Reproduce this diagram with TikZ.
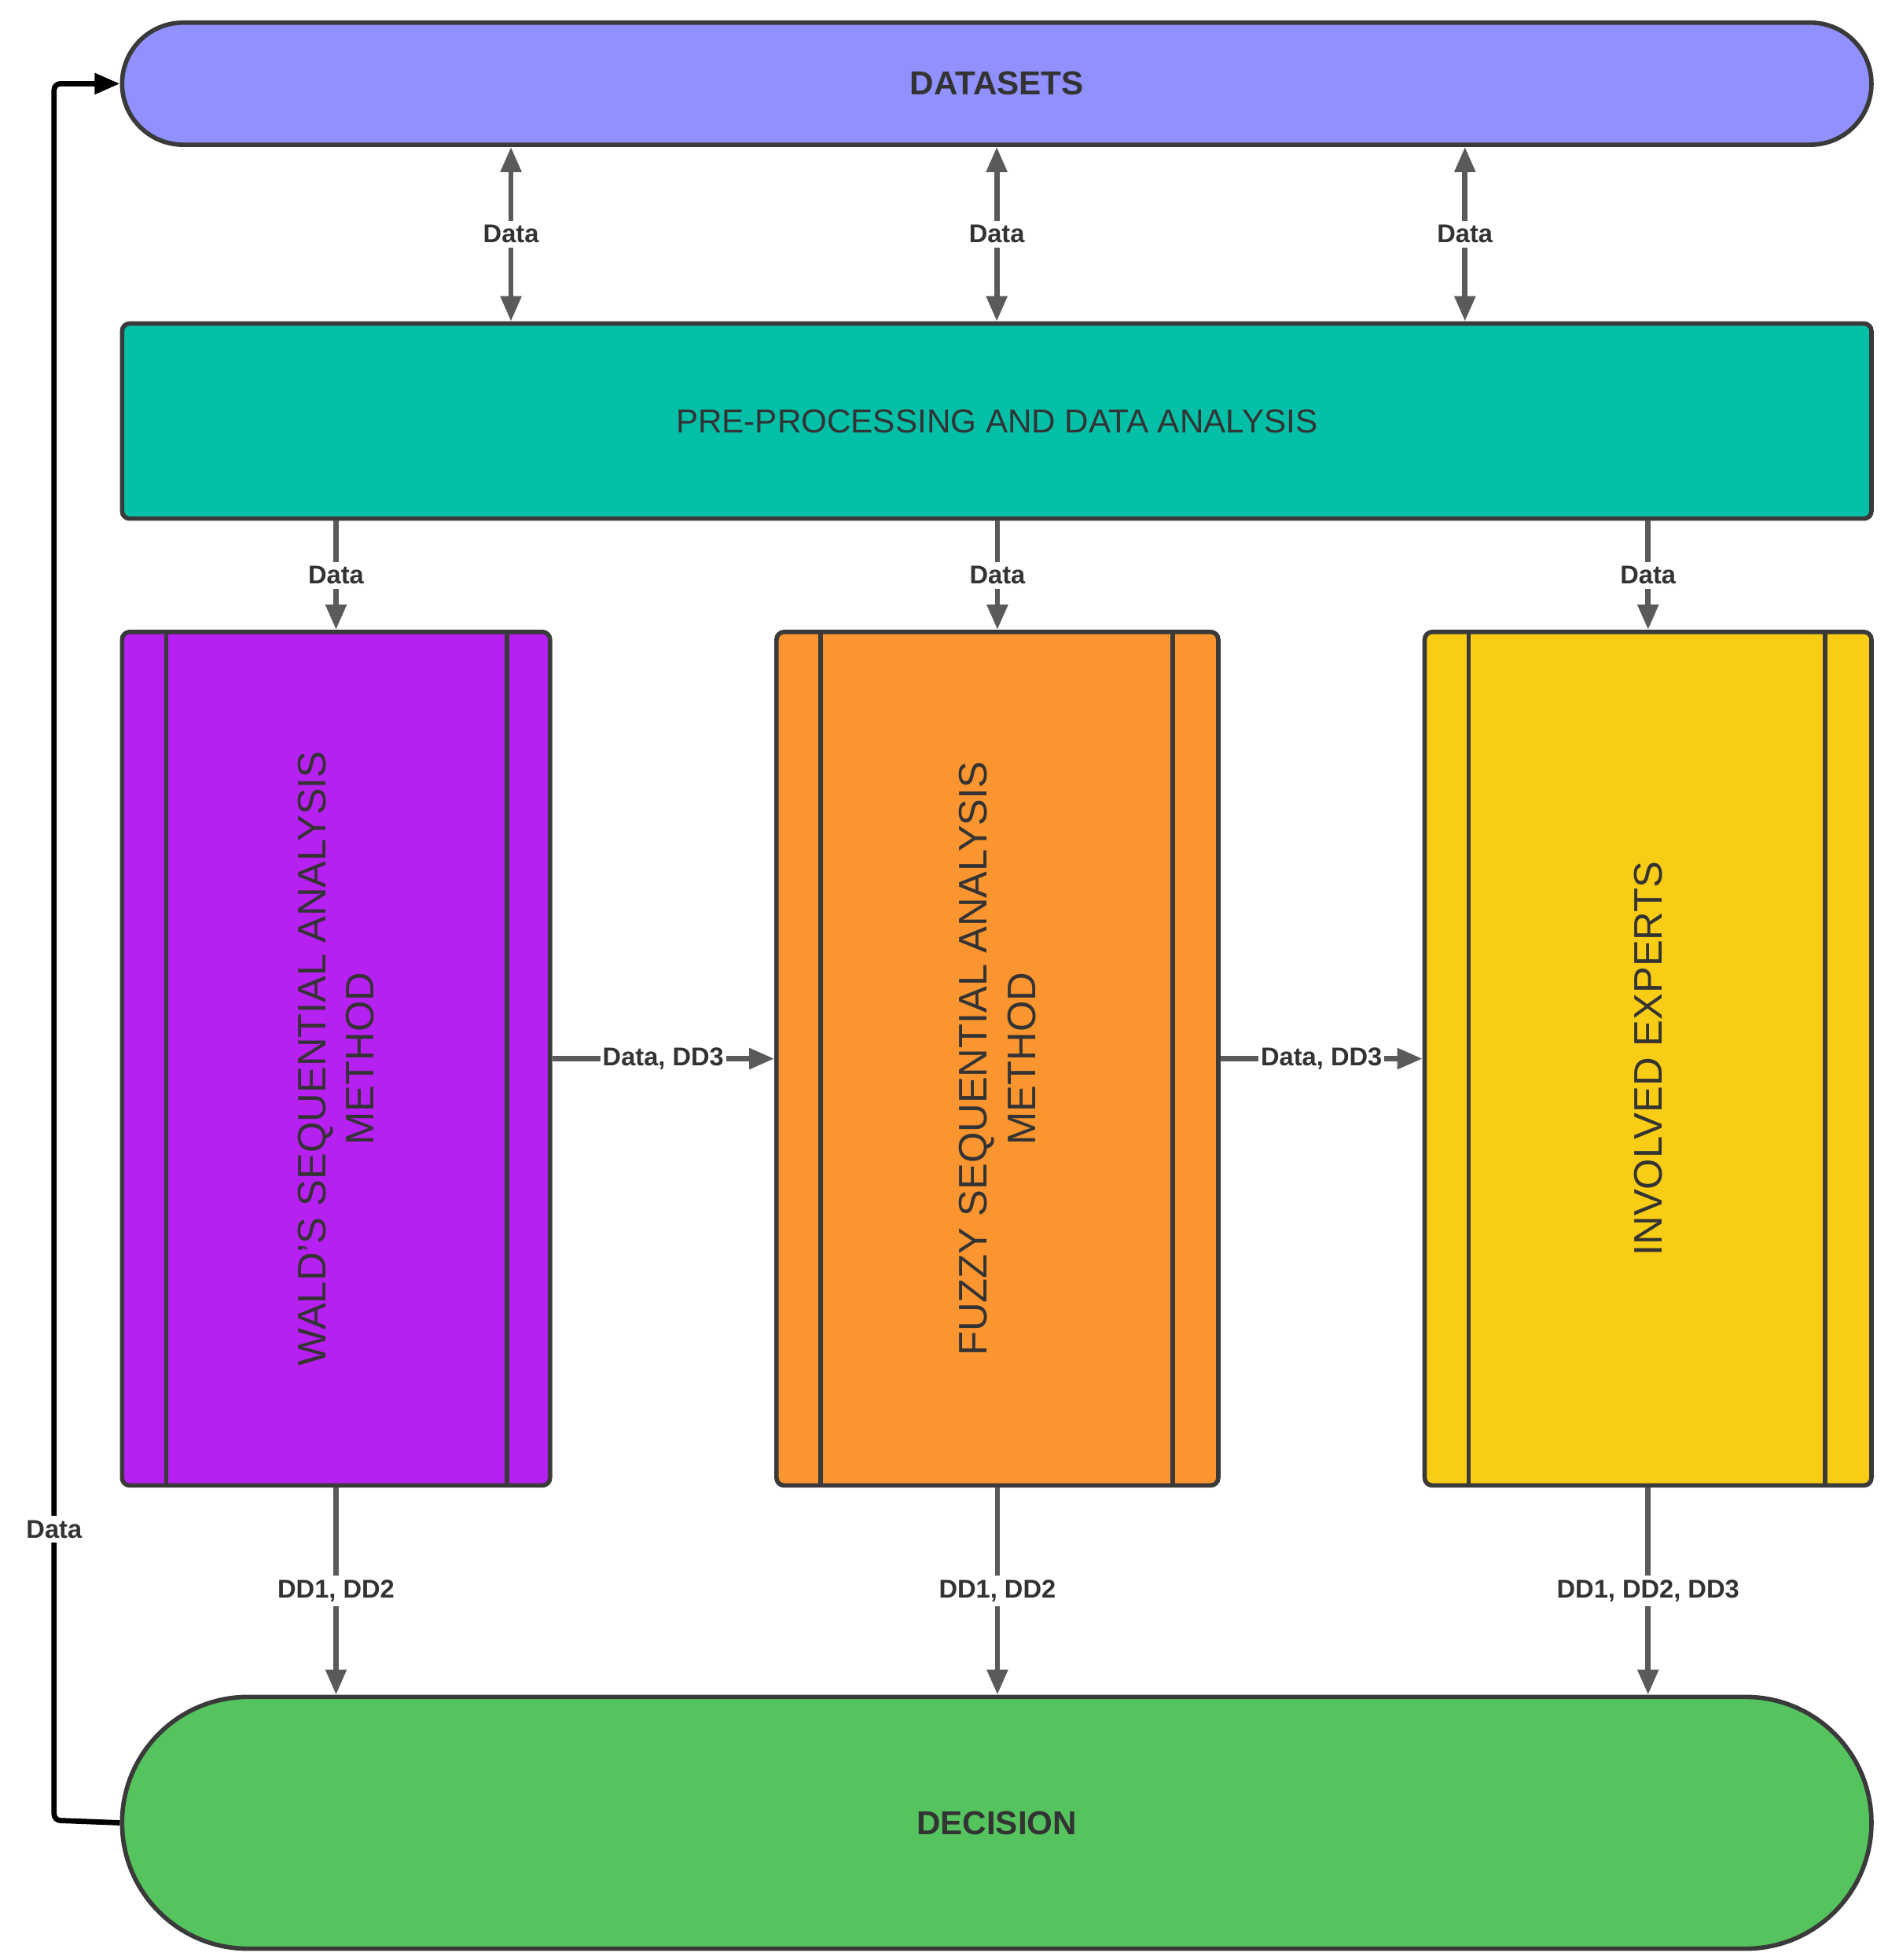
\documentclass[tikz,border=0pt]{standalone}
\usepackage{fontspec}
\setmainfont{Liberation Sans}
\usetikzlibrary{arrows.meta}
\definecolor{cDat}{HTML}{9090FF}
\definecolor{cPre}{HTML}{02C0A8}
\definecolor{cWald}{HTML}{B620F0}
\definecolor{cFuz}{HTML}{FA9530}
\definecolor{cExp}{HTML}{F9CC15}
\definecolor{cDec}{HTML}{55C45E}
\definecolor{cEdge}{HTML}{3A3A3A}
\definecolor{cLink}{HTML}{5A5A5A}
\definecolor{cText}{HTML}{333333}
\begin{document}
\begin{tikzpicture}[
  box/.style={draw=cEdge, line width=1pt, inner sep=0pt, rounded corners=0.06cm, text=cText},
  tall/.style={box, minimum height=6.78cm, font=\fontsize{9}{11}\selectfont, align=center},
  link/.style={draw=cLink, line width=1.2pt, -{Triangle[length=0.2cm,width=0.16cm]}},
  dlink/.style={link, {Triangle[length=0.2cm,width=0.16cm]}-{Triangle[length=0.2cm,width=0.16cm]}},
  lab/.style={fill=white, inner sep=1pt, text=cText, font=\bfseries\fontsize{5.8}{7}\selectfont},
  inner/.style={draw=cEdge, line width=1pt}
]
\useasboundingbox (0,0) rectangle (15,-15.57);

\node[box, fill=cDat, minimum width=13.9cm, minimum height=0.97cm, rounded corners=0.485cm,
  font=\bfseries\fontsize{7.5}{9}\selectfont] (dat) at (7.92,-0.665) {DATASETS};
\node[box, fill=cPre, minimum width=13.9cm, minimum height=1.55cm,
  font=\fontsize{7.5}{9}\selectfont] (pre) at (7.92,-3.345) {PRE-PROCESSING AND DATA ANALYSIS};
\node[tall, fill=cWald, minimum width=3.4cm] (wald) at (2.67,-8.41) {};
\node[tall, fill=cFuz, minimum width=3.51cm] (fuz) at (7.925,-8.41) {};
\node[tall, fill=cExp, minimum width=3.55cm] (exp) at (13.095,-8.41) {};
\node[rotate=90, align=center, text=cText, font=\fontsize{9}{11}\selectfont] at (wald.center) {WALD'S SEQUENTIAL ANALYSIS\\METHOD};
\node[rotate=90, align=center, text=cText, font=\fontsize{9}{11}\selectfont] at (fuz.center) {FUZZY SEQUENTIAL ANALYSIS\\METHOD};
\node[rotate=90, align=center, text=cText, font=\fontsize{9}{11}\selectfont] at (exp.center) {INVOLVED EXPERTS};
\node[box, fill=cDec, minimum width=13.9cm, minimum height=2.0cm, rounded corners=1cm,
  font=\bfseries\fontsize{7.5}{9}\selectfont] (dec) at (7.92,-14.48) {DECISION};

% inner bars
\foreach \n/\a/\b in {wald/1.32/4.03, fuz/6.52/9.32, exp/11.67/14.50}{
  \draw[inner] (\n.north -| \a,0) -- (\n.south -| \a,0);
  \draw[inner] (\n.north -| \b,0) -- (\n.south -| \b,0);
}

% datasets <-> pre-processing
\foreach \x in {4.06,7.92,11.64}
  \draw[dlink] (dat.south -| \x,0) -- node[lab]{Data} (pre.north -| \x,0);

% pre-processing -> methods
\draw[link] (pre.south -| wald.north) -- node[lab]{Data} (wald.north);
\draw[link] (pre.south -| fuz.north) -- node[lab]{Data} (fuz.north);
\draw[link] (pre.south -| exp.north) -- node[lab]{Data} (exp.north);

% between methods
\draw[link] (wald.east) -- node[lab, inner sep=0.5pt]{Data, DD3} (fuz.west);
\draw[link] (fuz.east) -- node[lab, inner sep=0.5pt]{Data, DD3} (exp.west);

% methods -> decision
\draw[link] (wald.south) -- node[lab]{DD1, DD2} (dec.north -| wald.south);
\draw[link] (fuz.south) -- node[lab]{DD1, DD2} (dec.north -| fuz.south);
\draw[link] (exp.south) -- node[lab]{DD1, DD2, DD3} (dec.north -| exp.south);

% feedback
\coordinate (fb1) at (0.43,-14.46);
\coordinate (fb2) at (0.43,-0.665);
\draw[line width=1.2pt, black, rounded corners=0.05cm, -{Triangle[length=0.2cm,width=0.16cm]}]
  (dec.west) -- (fb1) -- (fb2) -- (dat.west);
\node[lab] at (0.43,-12.15) {Data};
\end{tikzpicture}
\end{document}
